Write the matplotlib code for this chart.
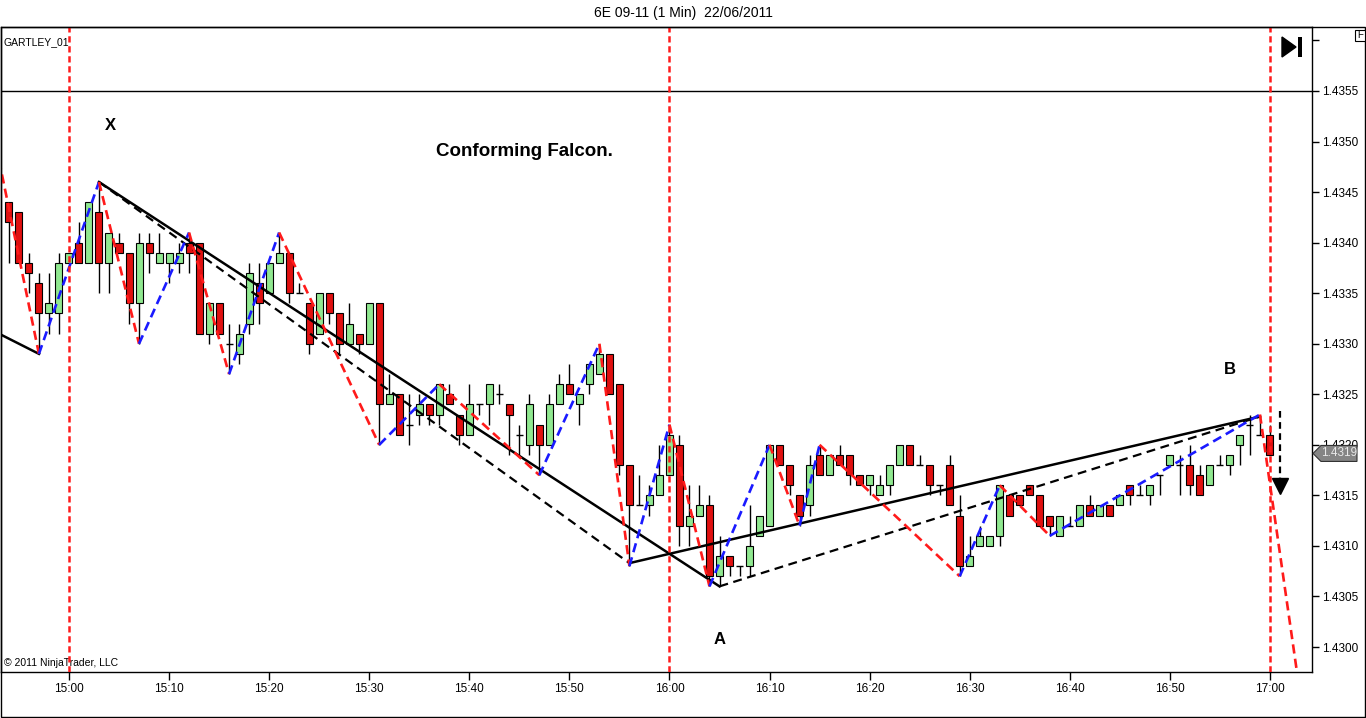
import matplotlib
matplotlib.use("Agg")
import matplotlib.pyplot as plt
from matplotlib.patches import Polygon, Rectangle

plt.rcParams['font.family'] = ['Liberation Sans', 'DejaVu Sans']

W, H = 1366, 718
BASE = 1.4300   # prices below are pips above this
PIP = 0.0001

# one bar per minute, minutes counted from 15:00
minutes = list(range(-6, 121))
opens = [44, 43, 38, 36, 33, 33, 38, 40, 38, 43, 38, 40, 39, 34, 40, 38, 38, 38, 40, 40,
         31, 34, 30, 29, 32, 36, 35, 38, 39, 35, 34, 31, 35, 33, 30, 31, 30, 34, 24, 25,
         22, 23, 24, 23, 25, 23, 21, 24, 24, 25, 24, 21, 20, 22, 20, 24, 26, 24, 26, 27,
         29, 26, 18, 14, 14, 15, 17, 20, 12, 13, 14, 7, 9, 8, 8, 11, 12, 20, 18, 15,
         14, 19, 17, 19, 19, 17, 16, 15, 16, 18, 20, 18, 18, 16, 18, 13, 8, 10, 10, 11,
         15, 15, 16, 15, 13, 11, 12, 12, 14, 13, 14, 14, 16, 15, 15, 17, 18, 18, 18, 17,
         16, 18, 18, 20, 22, 21, 21]
highs = [44, 43, 39, 37, 37, 39, 39, 42, 44, 46, 41, 41, 39, 41, 41, 41, 39, 40, 41, 40,
         34, 34, 32, 32, 38, 38, 38, 41, 39, 36, 34, 35, 35, 33, 34, 31, 34, 34, 27, 25,
         25, 25, 24, 26, 26, 23, 26, 24, 26, 26, 24, 22, 25, 22, 25, 27, 28, 25, 28, 30,
         29, 26, 18, 17, 16, 20, 22, 21, 16, 16, 15, 11, 9, 8, 14, 13, 20, 20, 18, 15,
         19, 20, 19, 20, 19, 17, 17, 17, 18, 20, 20, 19, 18, 16, 19, 15, 11, 12, 11, 16,
         15, 15, 16, 15, 13, 13, 13, 14, 15, 14, 14, 15, 16, 16, 16, 17, 19, 19, 20, 18,
         18, 19, 19, 21, 23, 23, 22]
lows = [38, 38, 35, 29, 31, 31, 38, 38, 38, 35, 35, 39, 32, 30, 37, 38, 36, 37, 37, 31,
        30, 31, 27, 28, 31, 32, 35, 38, 34, 35, 29, 31, 32, 29, 30, 29, 30, 20, 24, 21,
        20, 22, 22, 22, 24, 20, 21, 23, 22, 24, 19, 19, 19, 17, 20, 24, 25, 22, 25, 27,
        25, 17, 8, 14, 13, 15, 17, 10, 10, 13, 6, 6, 7, 7, 7, 11, 12, 18, 15, 12,
        13, 17, 17, 18, 16, 16, 15, 15, 15, 18, 18, 18, 15, 15, 14, 7, 8, 10, 10, 10,
        13, 14, 15, 12, 11, 11, 12, 12, 13, 13, 13, 14, 14, 15, 14, 15, 18, 15, 15, 15,
        16, 18, 17, 18, 19, 21, 19]
closes = [42, 38, 37, 33, 34, 38, 39, 38, 44, 38, 41, 39, 34, 40, 39, 39, 39, 39, 39, 31,
          34, 31, 30, 31, 37, 34, 38, 39, 35, 35, 30, 35, 33, 30, 32, 30, 34, 24, 25, 21,
          22, 24, 23, 26, 24, 21, 24, 24, 26, 25, 23, 21, 24, 20, 24, 26, 25, 25, 28, 29,
          25, 18, 14, 14, 15, 17, 21, 12, 13, 14, 7, 9, 8, 8, 10, 13, 20, 18, 16, 13,
          18, 17, 19, 18, 17, 16, 17, 16, 18, 20, 18, 18, 16, 16, 14, 8, 9, 11, 11, 16,
          13, 14, 15, 12, 12, 13, 12, 14, 13, 14, 13, 15, 15, 15, 16, 17, 19, 18, 16, 15,
          18, 18, 19, 21, 22, 21, 19]

# zigzag swing points (minute, pips)
zz_min = [-8, -3, 3, 7, 12, 16, 21, 31, 37, 47, 53, 56, 60, 64, 70, 73, 75, 89, 93, 98, 119, 123.5]
zz_pip = [53, 29, 46, 30, 41, 27, 41, 20, 26, 17, 30, 8, 22, 6, 20, 12, 20, 7, 16, 11, 23, -8]

# pattern lines: (start minute, start pips, end minute, end pips, style)
pattern_lines = [
    (-8, 31.5, -3, 29, '-'),
    (3, 46, 65, 6, '-'),
    (3, 46, 56, 8.3, '--'),
    (56, 8.3, 119, 22.8, '-'),
    (65, 6, 119, 22.8, '--'),
]

session_marks = [0, 60, 120]
hline_pips = 55
time_ticks = list(range(0, 121, 10))
time_labels = ['15:00', '15:10', '15:20', '15:30', '15:40', '15:50', '16:00',
               '16:10', '16:20', '16:30', '16:40', '16:50', '17:00']
price_ticks = list(range(0, 61, 5))

GREEN = '#90e890'
RED = '#e01010'

fig = plt.figure(figsize=(W / 100, H / 100), dpi=100)
ax = fig.add_axes([1 / W, (H - 672) / H, 1311 / W, 645 / H])
ax.set_xlim(-6.79, 124.2)
ax.set_ylim(-2.47, 61.33)

# candles
for m, o, hi, lo, c in zip(minutes, opens, highs, lows, closes):
    ax.vlines(m, lo, hi, color='black', lw=1, zorder=2)
    if o == c:
        ax.hlines(o, m - 0.35, m + 0.35, color='black', lw=1, zorder=2)
    else:
        col = GREEN if c > o else RED
        ax.bar(m, abs(c - o), bottom=min(o, c), width=0.7, color=col,
               edgecolor='black', lw=0.8, zorder=2)

# zigzag
for i in range(len(zz_min) - 1):
    col = '#1a1aff' if zz_pip[i + 1] > zz_pip[i] else '#ff1a1a'
    ax.plot(zz_min[i:i + 2], zz_pip[i:i + 2], color=col, lw=1.9,
            dashes=(3.5, 2), zorder=4)

for x0, y0, x1, y1, ls in pattern_lines:
    if ls == '-':
        ax.plot([x0, x1], [y0, y1], color='black', lw=1.8, zorder=3)
    else:
        ax.plot([x0, x1], [y0, y1], color='black', lw=1.6, dashes=(4, 2.5), zorder=3)

for m in session_marks:
    ax.axvline(m, color='#ff1a1a', lw=1.8, dashes=(2.5, 1.5), zorder=5)
ax.axhline(hline_pips, color='black', lw=1, zorder=3)

# projected drop arrow
ax.plot([121, 121], [23.3, 16.5], color='black', lw=1.6, dashes=(3, 2), zorder=5)
ax.plot(121, 15.9, marker='v', ms=12, color='black', zorder=5)

# labels on chart
ax.text(4.1, 51.6, 'X', fontsize=12, fontweight='bold', ha='center', va='center')
ax.text(45.5, 49, 'Conforming Falcon.', fontsize=13.5, fontweight='bold',
        ha='center', va='center')
ax.text(65, 0.7, 'A', fontsize=12, fontweight='bold', ha='center', va='center')
ax.text(116, 27.5, 'B', fontsize=12, fontweight='bold', ha='center', va='center')
ax.text(0.002, 0.985, 'GARTLEY_01', transform=ax.transAxes, fontsize=7.5,
        ha='left', va='top')
ax.text(0.002, 0.006, '\u00a9 2011 NinjaTrader, LLC', transform=ax.transAxes,
        fontsize=7.5, ha='left', va='bottom')

# axes
ax.yaxis.tick_right()
ax.set_yticks(price_ticks)
ax.set_yticklabels(['' if v == 60 else f'{BASE + v * PIP:.4f}' for v in price_ticks])
ax.set_xticks(time_ticks)
ax.set_xticklabels(time_labels)
ax.tick_params(axis='y', direction='out', length=5, width=1, pad=2, labelsize=8.5)
ax.tick_params(axis='x', direction='out', length=6, width=1, pad=2, labelsize=8.5)
for s in ax.spines.values():
    s.set_linewidth(1)

fig.text(0.5, 1 - 13 / H, '6E 09-11 (1 Min)  22/06/2011', ha='center', va='center',
         fontsize=10)

# outer frame
fig.add_artist(Rectangle((1 / W, 1 / H), 1364 / W, 690 / H, transform=fig.transFigure,
                         fill=False, edgecolor='black', lw=1))

# last price marker
fig.canvas.draw()
ypix = ax.transData.transform((0, closes[-1]))[1] + 1.5
x_tip, x_l, x_r, hh = 1313, 1321, 1357, 8
poly = Polygon([(x_tip / W, ypix / H), (x_l / W, (ypix + hh) / H), (x_r / W, (ypix + hh) / H),
                (x_r / W, (ypix - hh) / H), (x_l / W, (ypix - hh) / H)],
               closed=True, transform=fig.transFigure, facecolor='#858585',
               edgecolor='#333333', lw=0.8, zorder=10)
fig.add_artist(poly)
fig.text((x_l + x_r) / 2 / W, ypix / H, f'{BASE + closes[-1] * PIP:.4f}', ha='center',
         va='center', fontsize=8.5, color='#e8e8e8', zorder=11)

# toolbar glyphs
fig.add_artist(Polygon([(1282 / W, 1 - 37 / H), (1282 / W, 1 - 57 / H), (1296 / W, 1 - 47 / H)],
                       closed=True, transform=fig.transFigure, facecolor='black',
                       edgecolor='black', zorder=10))
fig.add_artist(Rectangle((1298 / W, 1 - 57 / H), 4 / W, 20 / H, transform=fig.transFigure,
                         facecolor='black', zorder=10))
fig.add_artist(Rectangle((1355 / W, 1 - 41 / H), 10 / W, 11 / H, transform=fig.transFigure,
                         facecolor='white', edgecolor='black', lw=0.8, zorder=10))
fig.text(1360 / W, 1 - 35.5 / H, 'F', ha='center', va='center', fontsize=7, zorder=11)

fig.savefig('out.png', dpi=100)
